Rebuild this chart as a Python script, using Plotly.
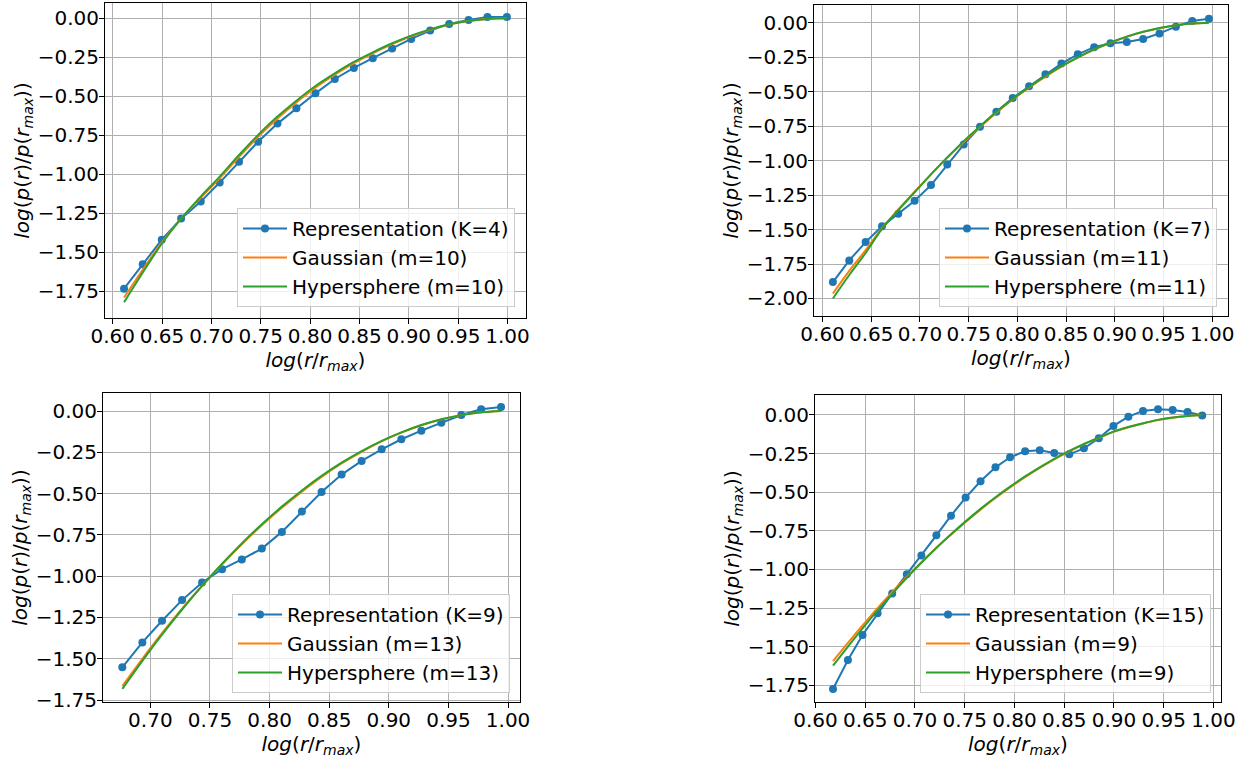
import plotly.graph_objects as go

# ---------------- data ----------------
# Panel 1 (top-left)
rep_x1 = [0.6115, 0.6304, 0.6497, 0.6693, 0.6892, 0.7084, 0.7280, 0.7473, 0.7669, 0.7861, 0.8054,
          0.8250, 0.8443, 0.8635, 0.8831, 0.9024, 0.9216, 0.9409, 0.9605, 0.9797, 0.9993]
rep_y1 = [-1.733, -1.577, -1.419, -1.284, -1.175, -1.053, -0.919, -0.791, -0.675, -0.577, -0.481,
          -0.389, -0.318, -0.256, -0.194, -0.132, -0.079, -0.036, -0.011, 0.009, 0.009]
fit_x1 = [0.6115, 0.6500, 0.6693, 0.6892, 0.7084, 0.7280, 0.7473, 0.7669, 0.7861, 0.8054,
          0.8250, 0.8443, 0.8635, 0.8831, 0.9024, 0.9216, 0.9409, 0.9605, 0.9797, 0.9993]
gau_y1 = [-1.790, -1.435, -1.284, -1.150, -1.025, -0.888, -0.760, -0.642, -0.539, -0.445,
          -0.362, -0.288, -0.225, -0.166, -0.115, -0.074, -0.040, -0.018, -0.004, 0.0]
hyp_y1 = [-1.820, -1.442, -1.284, -1.143, -1.015, -0.876, -0.748, -0.630, -0.528, -0.434,
          -0.353, -0.280, -0.218, -0.160, -0.111, -0.071, -0.038, -0.017, -0.004, 0.0]

# Panel 2 (top-right)
rep_x2 = [0.6106, 0.6274, 0.6442, 0.6610, 0.6777, 0.6945, 0.7113, 0.7280, 0.7449, 0.7616, 0.7784, 0.7952,
          0.8120, 0.8288, 0.8452, 0.8620, 0.8788, 0.8955, 0.9123, 0.9291, 0.9459, 0.9627, 0.9795, 0.9966]
rep_y2 = [-1.881, -1.724, -1.591, -1.477, -1.385, -1.292, -1.178, -1.029, -0.884, -0.755, -0.646, -0.546,
          -0.461, -0.375, -0.297, -0.230, -0.178, -0.150, -0.140, -0.119, -0.078, -0.029, 0.012, 0.029]
fit_x2 = rep_x2
gau_y2 = [-1.964, -1.800, -1.650, -1.490, -1.355, -1.225, -1.100, -0.980, -0.865, -0.757, -0.653, -0.557,
          -0.471, -0.391, -0.319, -0.254, -0.196, -0.146, -0.102, -0.067, -0.040, -0.018, -0.006, 0.0]
hyp_y2 = [-2.000, -1.830, -1.670, -1.495, -1.360, -1.230, -1.100, -0.977, -0.859, -0.752, -0.648, -0.553,
          -0.467, -0.387, -0.316, -0.251, -0.194, -0.144, -0.101, -0.066, -0.039, -0.018, -0.006, 0.0]

# Panel 3 (bottom-left)
rep_x3 = [0.6765, 0.6933, 0.7098, 0.7266, 0.7434, 0.7602, 0.7767, 0.7935, 0.8103, 0.8271,
          0.8436, 0.8604, 0.8772, 0.8940, 0.9105, 0.9273, 0.9440, 0.9608, 0.9774, 0.9941]
rep_y3 = [-1.552, -1.401, -1.270, -1.145, -1.038, -0.958, -0.899, -0.833, -0.732, -0.609,
          -0.490, -0.385, -0.302, -0.232, -0.171, -0.119, -0.071, -0.024, 0.010, 0.024]
fit_x3 = rep_x3
gau_y3 = [-1.665, -1.500, -1.345, -1.197, -1.058, -0.928, -0.807, -0.692, -0.586, -0.488,
          -0.399, -0.318, -0.247, -0.184, -0.131, -0.086, -0.051, -0.025, -0.008, 0.0]
hyp_y3 = [-1.683, -1.513, -1.354, -1.202, -1.059, -0.925, -0.802, -0.686, -0.579, -0.481,
          -0.393, -0.313, -0.243, -0.181, -0.129, -0.085, -0.050, -0.025, -0.008, 0.0]

# Panel 4 (bottom-right)
rep_x4 = [0.6176, 0.6326, 0.6473, 0.6624, 0.6771, 0.6918, 0.7064, 0.7215, 0.7362, 0.7509, 0.7659, 0.7809, 0.7956,
          0.8107, 0.8254, 0.8400, 0.8551, 0.8698, 0.8848, 0.8995, 0.9145, 0.9292, 0.9443, 0.9590, 0.9740, 0.9887]
rep_y4 = [-1.774, -1.586, -1.424, -1.284, -1.155, -1.031, -0.909, -0.779, -0.652, -0.535, -0.429, -0.339, -0.274,
          -0.235, -0.229, -0.246, -0.255, -0.216, -0.151, -0.071, -0.011, 0.026, 0.037, 0.032, 0.019, -0.004]
fit_x4 = rep_x4
gau_y4 = [-1.593, -1.475, -1.362, -1.250, -1.147, -1.047, -0.953, -0.860, -0.775, -0.693, -0.613, -0.538, -0.469,
          -0.403, -0.343, -0.288, -0.236, -0.190, -0.149, -0.110, -0.080, -0.055, -0.033, -0.018, -0.007, 0.0]
hyp_y4 = [-1.623, -1.499, -1.381, -1.265, -1.158, -1.054, -0.957, -0.861, -0.773, -0.689, -0.608, -0.533, -0.464,
          -0.398, -0.339, -0.284, -0.233, -0.188, -0.147, -0.108, -0.078, -0.054, -0.032, -0.017, -0.007, 0.0]

rep_names = ["Representation (K=4)", "Representation (K=7)", "Representation (K=9)", "Representation (K=15)"]
gau_names = ["Gaussian (m=10)", "Gaussian (m=11)", "Gaussian (m=13)", "Gaussian (m=9)"]
hyp_names = ["Hypersphere (m=10)", "Hypersphere (m=11)", "Hypersphere (m=13)", "Hypersphere (m=9)"]

x_ticks = [0.60, 0.65, 0.70, 0.75, 0.80, 0.85, 0.90, 0.95, 1.00]
y_ticks_a = [0.00, -0.25, -0.50, -0.75, -1.00, -1.25, -1.50, -1.75]
y_ticks_b = [0.00, -0.25, -0.50, -0.75, -1.00, -1.25, -1.50, -1.75, -2.00]

# ---------------- layout geometry ----------------
W, H = 1253, 761
# axes boxes in pixels: (left, right, top, bottom)
boxes = [(105, 526, 3, 318), (814, 1228, 5, 316), (103, 520, 393, 702), (815, 1221, 395, 702)]
xranges = [[0.5922, 1.0187], [0.5912, 1.0162], [0.6603, 1.0100], [0.5995, 1.0076]]
yranges = [[-1.921, 0.098], [-2.127, 0.128], [-1.762, 0.109], [-1.858, 0.129]]
legend_pos = [(515, 307), (1217, 307), (510, 693), (1211, 693)]  # right, bottom in px

BLUE, ORANGE, GREEN = "#1f77b4", "#ff7f0e", "#2ca02c"
FONT = "DejaVu Sans"
FS = 20

panels = [
    (rep_x1, rep_y1, fit_x1, gau_y1, hyp_y1, y_ticks_a),
    (rep_x2, rep_y2, fit_x2, gau_y2, hyp_y2, y_ticks_b),
    (rep_x3, rep_y3, fit_x3, gau_y3, hyp_y3, y_ticks_a),
    (rep_x4, rep_y4, fit_x4, gau_y4, hyp_y4, y_ticks_a),
]

fig = go.Figure()
layout = dict(
    width=W, height=H, margin=dict(l=0, r=0, t=0, b=0, autoexpand=False),
    paper_bgcolor="white", plot_bgcolor="white",
    font=dict(family=FONT, size=FS, color="black"),
    showlegend=True,
)

xtitle = "<i>log</i>(<i>r</i>/<i>r</i><sub><i>max</i></sub>)"
ytitle = "<i>log</i>(<i>p</i>(<i>r</i>)/<i>p</i>(<i>r</i><sub><i>max</i></sub>))"

for i, (rx, ry, fx, gy, hy, yt) in enumerate(panels):
    n = i + 1
    xa = "x" if n == 1 else f"x{n}"
    ya = "y" if n == 1 else f"y{n}"
    lg = "legend" if n == 1 else f"legend{n}"
    fig.add_trace(go.Scatter(x=rx, y=ry, mode="lines+markers", name=rep_names[i],
                             line=dict(color=BLUE, width=2), marker=dict(size=8, color=BLUE),
                             xaxis=xa, yaxis=ya, legend=lg, legendgroup=f"r{n}"))
    fig.add_trace(go.Scatter(x=fx, y=gy, mode="lines", name=gau_names[i], line_shape="spline",
                             line=dict(color=ORANGE, width=2),
                             xaxis=xa, yaxis=ya, legend=lg, legendgroup=f"g{n}"))
    fig.add_trace(go.Scatter(x=fx, y=hy, mode="lines", name=hyp_names[i], line_shape="spline",
                             line=dict(color=GREEN, width=2),
                             xaxis=xa, yaxis=ya, legend=lg, legendgroup=f"h{n}"))

    l, r, t, b = boxes[i]
    axis_common = dict(showgrid=True, gridcolor="#b0b0b0", gridwidth=1,
                       showline=True, linecolor="black", linewidth=1, mirror=True,
                       ticks="outside", ticklen=5, tickwidth=1, tickcolor="black",
                       zeroline=False, tickformat=".2f", automargin=False,
                       tickfont=dict(family=FONT, size=FS, color="black"))
    layout["xaxis" if n == 1 else f"xaxis{n}"] = dict(
        axis_common, domain=[l / W, r / W], range=xranges[i], tickvals=x_ticks,
        ticklabelstandoff=-5,
        anchor=ya, title=dict(text=xtitle, font=dict(family=FONT, size=FS), standoff=0))
    layout["yaxis" if n == 1 else f"yaxis{n}"] = dict(
        axis_common, domain=[1 - b / H, 1 - t / H], range=yranges[i], tickvals=yt,
        ticklabelstandoff=-4,
        anchor=xa, title=dict(text=ytitle, font=dict(family=FONT, size=FS), standoff=2))
    lx, lyb = legend_pos[i]
    layout[lg] = dict(x=lx / W, y=1 - lyb / H, xanchor="right", yanchor="bottom",
                      bgcolor="rgba(255,255,255,0.8)", bordercolor="#cccccc", borderwidth=1,
                      font=dict(family=FONT, size=FS, color="black"),
                      traceorder="grouped", tracegroupgap=0, itemwidth=44)

fig.update_layout(**layout)
fig.write_html("out.html", config={"displayModeBar": False},
               post_script="document.body.style.margin='0';document.body.style.padding='0';")
